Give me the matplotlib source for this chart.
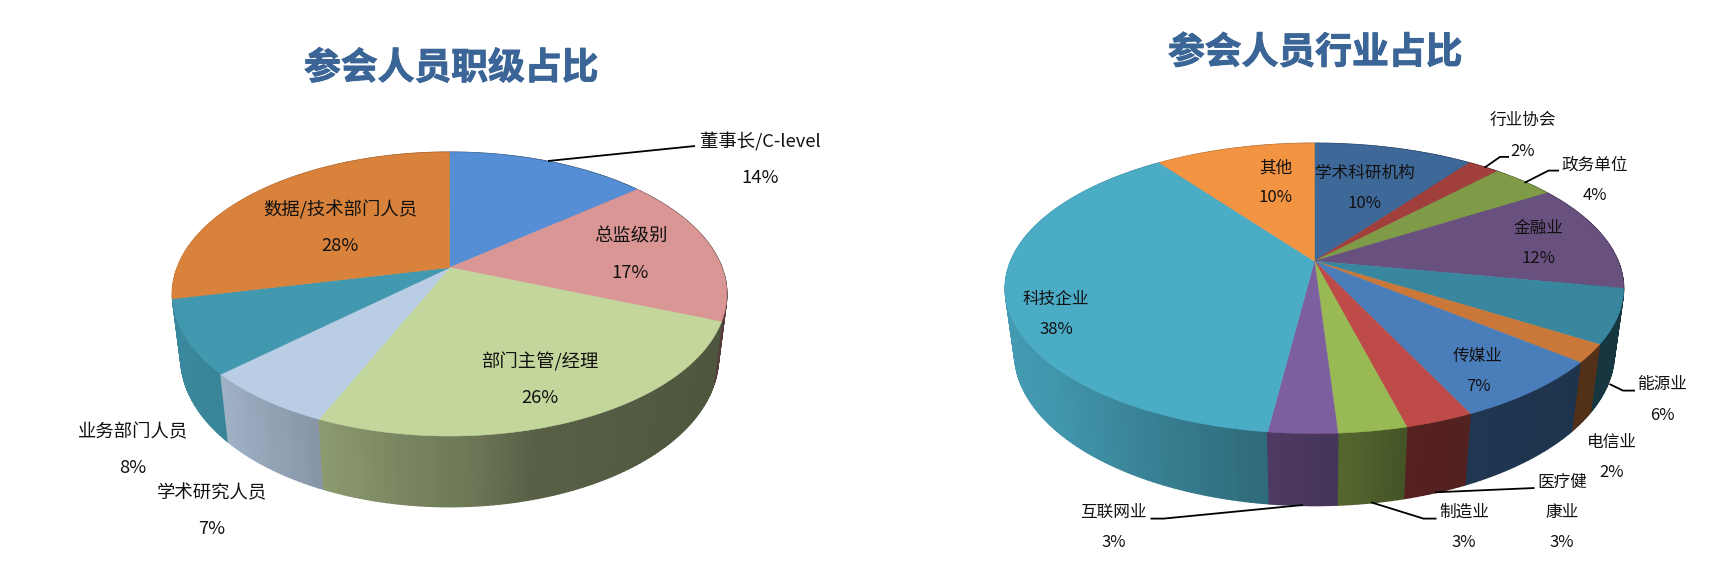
import numpy as np
import matplotlib
matplotlib.use("Agg")
import matplotlib.pyplot as plt
import matplotlib.patheffects as pe
from matplotlib.collections import PolyCollection
from matplotlib.patches import Polygon

plt.rcParams['font.family'] = ['Noto Sans CJK SC', 'DejaVu Sans']

# Data: shares clockwise from 12 o'clock
level_title = "参会人员职级占比"
level_names = ["董事长/C-level", "总监级别", "部门主管/经理", "学术研究人员", "业务部门人员", "数据/技术部门人员"]
level_values = [14, 17, 25.5, 6.6, 8.4, 28.5]

industry_title = "参会人员行业占比"
industry_names = ["学术科研机构", "行业协会", "政务单位", "金融业", "能源业", "电信业", "传媒业",
                  "医疗健\n康业", "制造业", "互联网业", "科技企业", "其他"]
industry_values = [10, 2, 4, 12, 6, 2, 7, 3, 3, 3, 38, 10]

# Styles and layout (pixels of the output image)
level_colors = ["#558ED5", "#D99694", "#C3D69B", "#B9CDE5", "#4198AF", "#D8823B"]
industry_colors = ["#3E6898", "#A03F3C", "#809B48", "#68507F", "#38879F", "#C9783A", "#4A7EBB",
                   "#BE4B48", "#98B954", "#7D5FA0", "#4BACC6", "#F39443"]

level_pie = dict(cx=449.6, cy=267.6, rx=277.2, back=115.4, front=168.4, bottom=506.7)
industry_pie = dict(cx=1314.4, cy=261.1, rx=309.2, back=117.8, front=172.4, bottom=505.6)

level_label_xy = [(760.5, 142), (630.5, 236.5), (540, 362), (211.5, 493), (133, 432), (340, 210)]
industry_label_xy = [(1364.5, 173.8), (1522.4, 120.8), (1595, 164.8), (1538.4, 228), (1662, 385),
                     (1612, 442.5), (1478, 356.3), (1562, 482), (1464, 512.4), (1113.7, 512.4),
                     (1056, 299.3), (1275.4, 167.7)]

level_leaders = [[(548, 161), (695, 146)]]
industry_leaders = [
    [(1484.5, 167.7), (1500, 156.9), (1509, 156.9)],
    [(1524.5, 182.8), (1548.5, 170.6), (1559, 170.6)],
    [(1609.5, 384), (1623, 390.6), (1635, 390.6)],
    [(1435, 492.3), (1534.5, 488)],
    [(1371, 502.3), (1423.5, 518.6), (1436.5, 518.6)],
    [(1303, 505), (1163.5, 518.6), (1150.5, 518.6)],
]

shade_t = [0, .08, .27, .42, .55, .65, 1]
shade_f = [.90, .87, .72, .62, .55, .45, .40]
TITLE_COLOR = "#3A6596"
SHRINK = 0.03  # the bottom rim is a bit smaller than the top face


def make_projection(pie):
    # perspective view of a unit disc: the back edge looks flatter than the front one
    k = (pie["front"] - pie["back"]) / (pie["front"] + pie["back"])
    b = pie["back"] * (1 + k)
    r = pie["rx"] * np.sqrt(1 - k ** 2)
    d = (pie["bottom"] - pie["cy"]) * (1 - k + SHRINK) - b

    def project(theta, z):
        u, v = np.sin(theta), np.cos(theta)
        w = 1 + k * v + SHRINK * z
        return pie["cx"] + r * u / w, pie["cy"] + (-b * v + d * z) / w

    return project


def draw_pie(ax, pie, values, colors):
    project = make_projection(pie)
    edges = np.radians(np.concatenate([[0], np.cumsum(values)]) * 3.6)

    quads, quad_colors, quad_depth = [], [], []
    for i, color in enumerate(colors):
        rgb = np.array(matplotlib.colors.to_rgb(color))
        n = max(int(np.degrees(edges[i + 1] - edges[i])), 2)
        th = np.linspace(edges[i], edges[i + 1], n + 1)
        x0, y0 = project(th, 0)
        x1, y1 = project(th, 1)
        for j in range(n):
            quads.append([(x0[j], y0[j]), (x0[j + 1], y0[j + 1]), (x1[j + 1], y1[j + 1]), (x1[j], y1[j])])
            t = ((x0[j] + x0[j + 1]) / 2 - (pie["cx"] - pie["rx"])) / (2 * pie["rx"])
            quad_colors.append(rgb * np.interp(t, shade_t, shade_f))
            quad_depth.append(np.cos((th[j] + th[j + 1]) / 2))

    # back to front, so each sliver covers the seam of the one behind it
    order = np.argsort(quad_depth)[::-1]
    ax.add_collection(PolyCollection(
        [quads[i] for i in order],
        facecolors=[quad_colors[i] for i in order],
        edgecolors=[quad_colors[i] for i in order],
        linewidths=1.0,
    ))

    for i, color in enumerate(colors):
        th = np.linspace(edges[i], edges[i + 1], 200)
        x, y = project(th, 0)
        pts = np.vstack([[pie["cx"], pie["cy"]], np.column_stack([x, y])])
        ax.add_patch(Polygon(pts, closed=True, facecolor=color, edgecolor=color, linewidth=0.4))


def draw_labels(ax, names, values, label_xy, size, gap):
    for name, value, (x, y) in zip(names, values, label_xy):
        lines = name.split("\n") + [f"{value:.0f}%"]
        for n, line in enumerate(lines):
            ax.text(x, y + n * gap, line, ha="center", va="center", fontsize=size, color="#111111")


def draw_leaders(ax, leaders):
    for line in leaders:
        xs, ys = zip(*line)
        ax.plot(xs, ys, color="black", lw=1.3, solid_capstyle="butt")


def draw_title(ax, x, y, title):
    ax.text(x, y, title, ha="center", va="center", fontsize=26.5,
            fontweight="bold", color=TITLE_COLOR,
            path_effects=[pe.withStroke(linewidth=0.7, foreground=TITLE_COLOR)])


fig = plt.figure(figsize=(17.32, 5.64), dpi=100)
ax = fig.add_axes([0, 0, 1, 1])
ax.set_xlim(0, 1732)
ax.set_ylim(564, 0)
ax.axis("off")

draw_pie(ax, level_pie, level_values, level_colors)
draw_pie(ax, industry_pie, industry_values, industry_colors)

draw_leaders(ax, level_leaders)
draw_leaders(ax, industry_leaders)

draw_labels(ax, level_names, level_values, level_label_xy, 13.2, 36)
draw_labels(ax, industry_names, industry_values, industry_label_xy, 12, 30.2)

draw_title(ax, 451, 68.5, level_title)
draw_title(ax, 1315, 53, industry_title)

fig.savefig("out.png", dpi=100)
